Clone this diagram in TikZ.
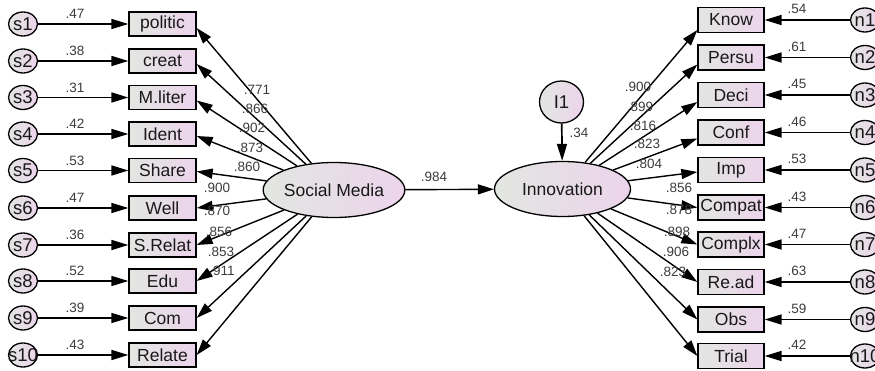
\documentclass[tikz,border=0pt]{standalone}
\usepackage{fontspec}
\setmainfont{Liberation Sans}
\usetikzlibrary{arrows.meta,shapes.geometric}
\definecolor{shL}{RGB}{226,230,225}
\definecolor{shR}{RGB}{236,212,236}
\definecolor{numc}{RGB}{60,60,60}
\tikzset{
  obsbox/.style={draw, line width=1.3pt, rectangle, minimum width=67pt, minimum height=24pt,
    inner sep=0pt, left color=shL, right color=shR, text=black!90,
    font=\fontsize{17.5}{18}\selectfont},
  errc/.style={draw, line width=1.3pt, ellipse, minimum width=29pt, minimum height=24pt,
    inner sep=0pt, left color=shL, right color=shR, text=black!90,
    font=\fontsize{18.5}{18}\selectfont},
  latent/.style={draw, line width=1.3pt, ellipse, minimum width=136pt, minimum height=55pt,
    inner sep=0pt, left color=shL, right color=shR, text=black!90,
    font=\fontsize{17.5}{18}\selectfont},
  arr/.style={-{Triangle[length=16pt,width=10pt]}, line width=1.4pt},
  earr/.style={-{Triangle[length=17pt,width=10pt]}, line width=1.7pt},
  num/.style={inner sep=0pt, text=numc, font=\fontsize{13.5}{14}\selectfont}
}
\begin{document}
\begin{tikzpicture}[x=1pt,y=-1pt]
\useasboundingbox (0,0) rectangle (875,371);
% latent variables
\node[latent] (sm) at (334,190) {Social Media};
\node[latent] (inn) at (562.5,189) {Innovation};
\node[errc, minimum width=44pt, minimum height=42pt] (I1) at (561.5,102) {I1};
\draw[arr] (sm) -- (inn);
\node[num] (l984) at (434,177) {.984};
\draw[earr] (I1) -- (inn);
\node[num] (l34) at (579,133) {.34};
% left indicators
\foreach \i/\y/\t/\e/\ys in {1/24/politic/.47/4, 2/61/creat/.38/3, 3/97.5/M.liter/.31/3,
  4/134/Ident/.42/2, 5/170.5/Share/.53/1, 6/208/Well/.47/0, 7/245/S.Relat/.36/0,
  8/281/Edu/.52/0, 9/318/Com/.39/0, 10/355/Relate/.43/0} {
  \node[obsbox] (L\i) at (162.5,\y) {\t};
  \node[errc] (s\i) at (23,\y) {\makebox[0pt]{s\i}};
  \draw[earr] (s\i) -- (L\i);
  \node[num] (le\i) at (75,\y-10) {\e};
  \draw[arr] (sm) -- ([yshift=-\ys pt]L\i.east);
}
% left loadings
\foreach \i/\x/\y/\v in {1/257/90/.771, 2/255/109/.866, 3/252/128/.902, 4/250/148/.873,
  5/247/167/.860, 6/217/188/.900, 7/217/211/.870, 8/219/232/.856, 9/221/252/.853,
  10/222/271/.911} {
  \node[num] (lw\i) at (\x,\y) {\v};
}
% right indicators
\foreach \i/\y/\t/\e/\ys in {1/20/Know/.54/10, 2/57.5/Persu/.61/7, 3/95/Deci/.45/7,
  4/132.5/Conf/.46/6, 5/170/Imp/.53/2, 6/207.5/Compat/.43/0, 7/244.5/Complx/.47/0,
  8/282/Re.ad/.63/0, 9/319.5/Obs/.59/0, 10/356/Trial/.42/0} {
  \node[obsbox, minimum width=66pt, minimum height=25pt] (R\i) at (731,\y) {\t};
  \node[errc] (n\i) at (865,\y) {\makebox[0pt]{n\i}};
  \draw[earr] (n\i) -- (R\i);
  \node[num] (re\i) at (797,\y-11) {\e};
  \draw[arr] (inn) -- ([yshift=-\ys pt]R\i.west);
}
% right loadings
\foreach \i/\x/\y/\v in {1/638/87/.900, 2/640/107/.899, 3/643/126/.816, 4/647/144/.823,
  5/649/164/.804, 6/679/188/.856, 7/679/210/.878, 8/677/232/.898, 9/676/252/.906,
  10/673/272/.823} {
  \node[num] (rw\i) at (\x,\y) {\v};
}
\end{tikzpicture}
\end{document}
